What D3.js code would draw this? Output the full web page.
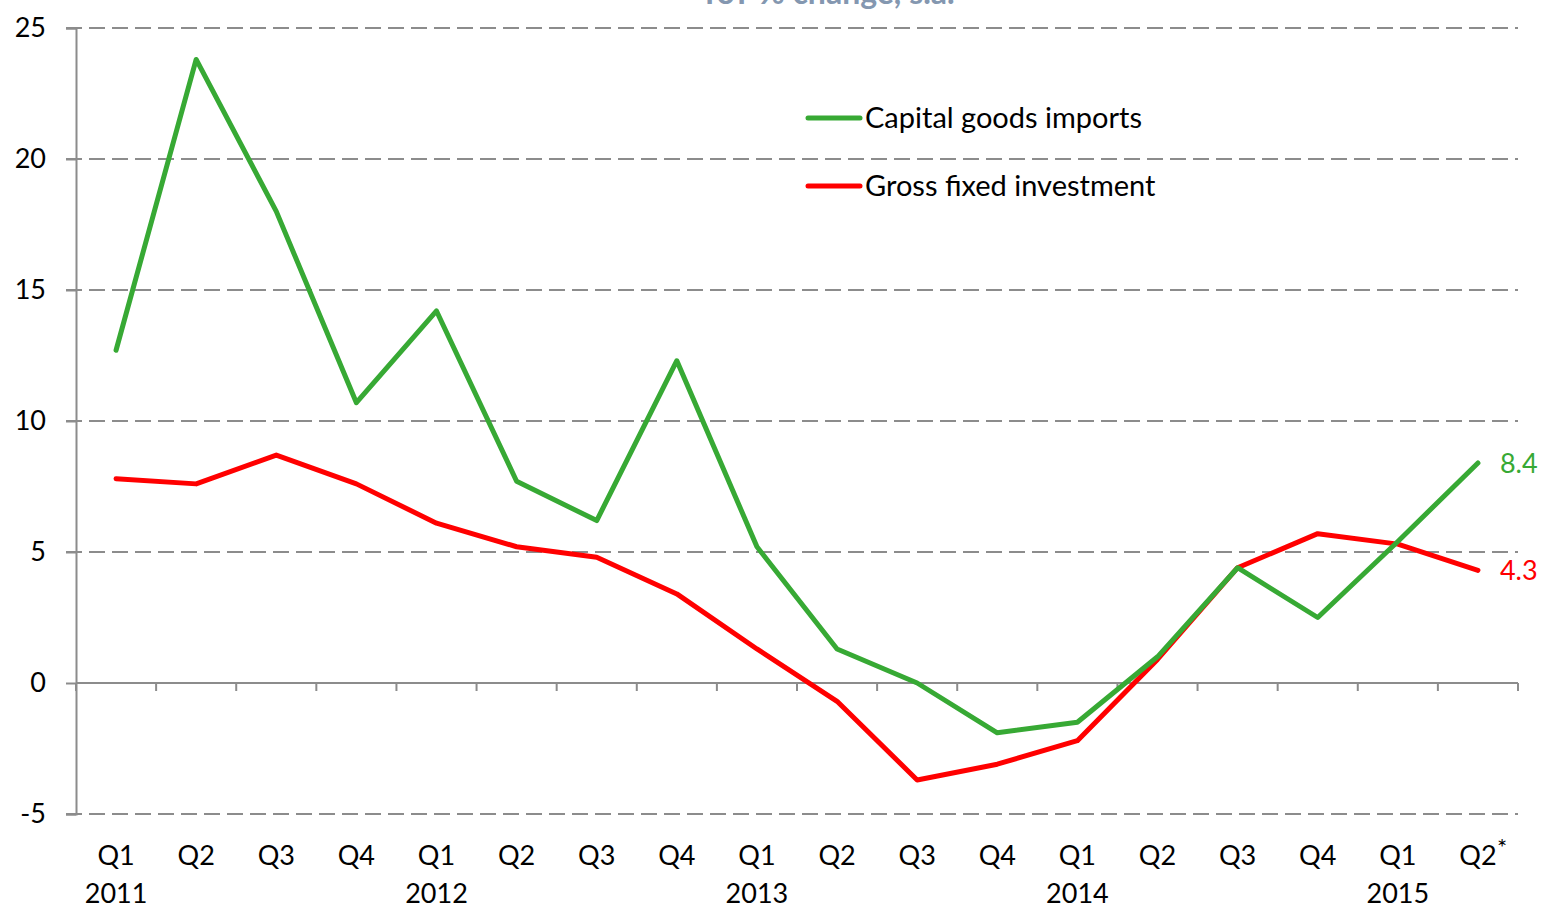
<!DOCTYPE html>
<html>
<head>
<meta charset="utf-8">
<script src="https://cdn.jsdelivr.net/npm/d3@7"></script>
<style>
  body { margin: 0; background: #fff; }
  text { font-family: Lato, "Open Sans", sans-serif; }
</style>
</head>
<body>
<div id="chart"></div>
<script>
var quarters = ['Q1','Q2','Q3','Q4','Q1','Q2','Q3','Q4','Q1','Q2','Q3','Q4','Q1','Q2','Q3','Q4','Q1','Q2'];
var years = ['2011','','','','2012','','','','2013','','','','2014','','','','2015',''];
var capitalGoods = [12.7, 23.8, 18.0, 10.7, 14.2, 7.7, 6.2, 12.3, 5.2, 1.3, 0.0, -1.9, -1.5, 1.0, 4.4, 2.5, 5.4, 8.4];
var grossInvestment = [7.8, 7.6, 8.7, 7.6, 6.1, 5.2, 4.8, 3.4, 1.3, -0.7, -3.7, -3.1, -2.2, 0.9, 4.4, 5.7, 5.3, 4.3];
var yTicks = [-5, 0, 5, 10, 15, 20, 25];

var colours = {
    green: '#37a934',
    red: '#ff0000',
    grid: '#8c8c8c',
    text: '#000000',
    title: '#8497b0'
};

var width = 1543, height = 907;
var margin = { left: 76, right: 1518, top: 28, bottom: 814 };

var svg = d3.select('#chart').append('svg')
    .attr('width', width)
    .attr('height', height);

var idx = d3.range(quarters.length);

var x = d3.scaleBand()
    .domain(idx)
    .range([margin.left, margin.right]);

var y = d3.scaleLinear()
    .domain([-5, 25])
    .range([margin.bottom, margin.top]);

//title, mostly cut off at top
svg.append('text')
    .attr('x', 827)
    .attr('y', 4)
    .attr('text-anchor', 'middle')
    .style('font-size', '32px')
    .style('font-weight', 'bold')
    .attr('fill', colours.title)
    .text('YoY % change, s.a.');

//gridlines
svg.append('g')
    .selectAll('line')
    .data(yTicks.filter(function(d) { return d !== 0; }))
    .enter().append('line')
    .attr('x1', margin.left - 10)
    .attr('x2', margin.right)
    .attr('y1', function(d) { return y(d); })
    .attr('y2', function(d) { return y(d); })
    .attr('stroke', colours.grid)
    .attr('stroke-width', 2)
    .attr('stroke-dasharray', '16,7');

//y axis
var yAxis = svg.append('g')
    .attr('transform', 'translate(' + margin.left + ',0)')
    .call(d3.axisLeft(y).tickValues(yTicks).tickFormat(function(d) { return String(d); })
        .tickSize(10).tickPadding(20));
yAxis.select('.domain').attr('stroke', colours.grid).attr('stroke-width', 2);
yAxis.selectAll('.tick line').attr('stroke', colours.grid).attr('stroke-width', 2);
yAxis.selectAll('.tick text')
    .attr('fill', colours.text)
    .style('font-size', '27px')
    .style('font-family', 'Lato, sans-serif');

//zero line with category ticks
svg.append('line')
    .attr('x1', margin.left)
    .attr('x2', margin.right)
    .attr('y1', y(0))
    .attr('y2', y(0))
    .attr('stroke', colours.grid)
    .attr('stroke-width', 2);

svg.append('g')
    .selectAll('line')
    .data(d3.range(quarters.length + 1))
    .enter().append('line')
    .attr('x1', function(d) { return margin.left + d * x.step(); })
    .attr('x2', function(d) { return margin.left + d * x.step(); })
    .attr('y1', y(0))
    .attr('y2', y(0) + 8)
    .attr('stroke', colours.grid)
    .attr('stroke-width', 2);

//x labels
var cx = function(i) { return x(i) + x.bandwidth() / 2; };

svg.append('g')
    .selectAll('text')
    .data(quarters)
    .enter().append('text')
    .attr('x', function(d, i) { return cx(i); })
    .attr('y', 865)
    .attr('text-anchor', 'middle')
    .style('font-size', '27px')
    .text(function(d) { return d; });

svg.append('g')
    .selectAll('text')
    .data(years)
    .enter().append('text')
    .attr('x', function(d, i) { return cx(i); })
    .attr('y', 903)
    .attr('text-anchor', 'middle')
    .style('font-size', '27px')
    .text(function(d) { return d; });

svg.append('text')
    .attr('x', cx(quarters.length - 1) + 19)
    .attr('y', 856)
    .style('font-size', '24px')
    .text('*');

//lines
var line = d3.line()
    .x(function(d, i) { return cx(i); })
    .y(function(d) { return y(d); });

var series = [
    { name: 'Capital goods imports', values: capitalGoods, colour: colours.green },
    { name: 'Gross fixed investment', values: grossInvestment, colour: colours.red }
];

svg.append('g')
    .selectAll('path')
    .data(series.slice().reverse())
    .enter().append('path')
    .attr('d', function(d) { return line(d.values); })
    .attr('fill', 'none')
    .attr('stroke', function(d) { return d.colour; })
    .attr('stroke-width', 5)
    .attr('stroke-linejoin', 'round')
    .attr('stroke-linecap', 'round');

//end labels
series.forEach(function(s) {
    var last = s.values[s.values.length - 1];
    svg.append('text')
        .attr('x', cx(s.values.length - 1) + 22)
        .attr('y', y(last) + 10)
        .attr('fill', s.colour)
        .style('font-size', '27px')
        .text(d3.format('.1f')(last));
});

//legend
var legend = svg.append('g')
    .selectAll('g')
    .data(series)
    .enter().append('g')
    .attr('transform', function(d, i) { return 'translate(808,' + (118 + i * 68) + ')'; });

legend.append('line')
    .attr('x1', 0)
    .attr('x2', 52)
    .attr('stroke', function(d) { return d.colour; })
    .attr('stroke-width', 5)
    .attr('stroke-linecap', 'round');

legend.append('text')
    .attr('x', 57)
    .attr('y', 10)
    .style('font-size', '29px')
    .text(function(d) { return d.name; });
</script>
</body>
</html>
